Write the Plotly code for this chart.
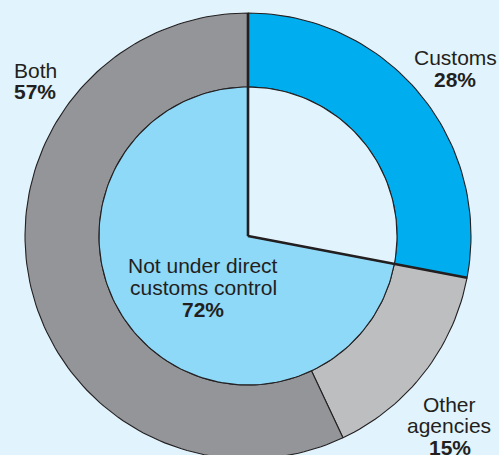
import numpy as np
import plotly.graph_objects as go

# Outer ring: who controls the goods
outer_labels = ["Customs", "Other agencies", "Both"]
outer_values = [28, 15, 57]
outer_colors = ["#00ADEE", "#BDBEC0", "#939598"]

# Inner disc: share under direct customs control
inner_labels = ["Under direct customs control", "Not under direct customs control"]
inner_values = [28, 72]
inner_colors = ["#E1F3FC", "#8ED8F8"]

BG = "#E1F3FC"
INK = "#231F20"
FONT = "Liberation Sans, Arial, sans-serif"

W, H = 499, 455
CX, CY = 248, 236          # centre of the rings, pixels from top-left
R_OUT, R_IN = 223, 149     # ring radii in pixels
r_in = R_IN / R_OUT        # inner radius in axis units (outer radius = 1)


def sector(r0, r1, f0, f1, n=240):
    """Closed outline of an annular sector; f0/f1 are fractions clockwise from 12 o'clock."""
    m = max(int(n * (f1 - f0)), 4)
    t = 2 * np.pi * np.linspace(f0, f1, m)
    xs = list(r1 * np.sin(t))
    ys = list(r1 * np.cos(t))
    if r0 > 0:
        xs += list(r0 * np.sin(t[::-1]))
        ys += list(r0 * np.cos(t[::-1]))
    else:
        xs.append(0.0)
        ys.append(0.0)
    xs.append(xs[0])
    ys.append(ys[0])
    return xs, ys


def bounds(values):
    total = float(sum(values))
    cum = np.concatenate([[0.0], np.cumsum(values) / total])
    return list(zip(cum[:-1], cum[1:]))


fig = go.Figure()

for (f0, f1), lab, col, v in zip(bounds(outer_values), outer_labels, outer_colors, outer_values):
    xs, ys = sector(r_in, 1.0, f0, f1)
    fig.add_trace(go.Scatter(x=xs, y=ys, mode="lines", fill="toself", fillcolor=col,
                             line=dict(color=INK, width=1.1), name=lab,
                             hoverinfo="text", text=f"{lab}: {v}%"))

for (f0, f1), lab, col, v in zip(bounds(inner_values), inner_labels, inner_colors, inner_values):
    xs, ys = sector(0, r_in, f0, f1)
    fig.add_trace(go.Scatter(x=xs, y=ys, mode="lines", fill="toself", fillcolor=col,
                             line=dict(color=INK, width=1.1), name=lab,
                             hoverinfo="text", text=f"{lab}: {v}%"))

# Heavy radial rules marking the edges of the customs-controlled share
for f in bounds(inner_values)[0]:
    t = 2 * np.pi * f
    fig.add_trace(go.Scatter(x=[0, np.sin(t)], y=[0, np.cos(t)], mode="lines",
                             line=dict(color=INK, width=2.6), hoverinfo="skip"))

# Labels (pixel positions converted to paper fractions)
def px(x):
    return x / W


def py(y):
    return 1 - y / H


def label(x, y, text, anchor="center"):
    fig.add_annotation(x=px(x), y=py(y), xref="paper", yref="paper", text=text,
                       showarrow=False, xanchor=anchor, yanchor="middle",
                       font=dict(family=FONT, size=21, color=INK))


label(455, 57, outer_labels[0])
label(455, 79, f"<b>{outer_values[0]}%</b>")

label(12, 70, outer_labels[2], anchor="left")
label(12, 92, f"<b>{outer_values[2]}%</b>", anchor="left")

label(449, 404, "Other")
label(449, 425, "agencies")
label(450, 447, f"<b>{outer_values[1]}%</b>")

label(203, 265, "Not under direct")
label(203, 287, "customs control")
label(203, 309, f"<b>{inner_values[1]}%</b>")

fig.update_layout(
    width=W, height=H,
    margin=dict(l=0, r=0, t=0, b=0),
    paper_bgcolor=BG, plot_bgcolor=BG,
    showlegend=False,
    xaxis=dict(range=[-CX / R_OUT, (W - CX) / R_OUT], visible=False, fixedrange=True),
    yaxis=dict(range=[-(H - CY) / R_OUT, CY / R_OUT], visible=False, fixedrange=True),
)

fig.write_html("out.html")
